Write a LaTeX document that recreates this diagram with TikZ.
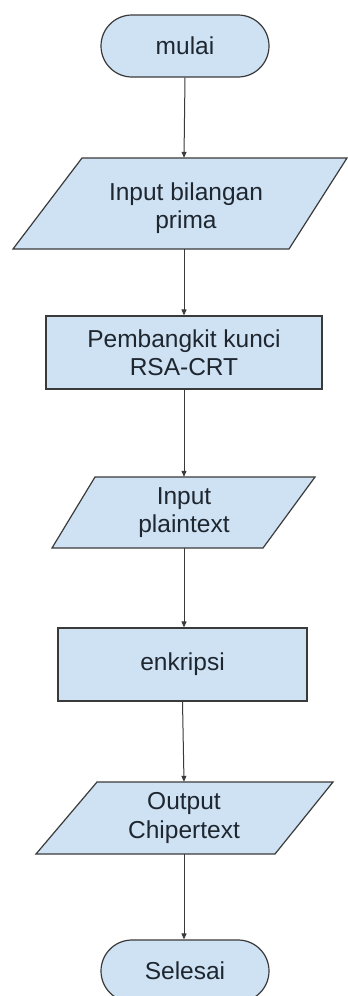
\documentclass[tikz,border=0pt]{standalone}
\usepackage{fontspec}
\setmainfont{Liberation Sans}
\usetikzlibrary{arrows.meta}
\definecolor{boxfill}{HTML}{CFE2F3}
\definecolor{boxline}{HTML}{3A3A3A}
\definecolor{txt}{HTML}{1E2630}
\tikzset{
  shapeline/.style={draw=boxline, line width=1.2pt, fill=boxfill},
  label/.style={text=txt, align=center, font=\fontsize{24.5}{28.5}\selectfont},
  terminal/.style={shapeline, label, rectangle, rounded corners=31pt,
    minimum width=168pt, minimum height=62pt, inner sep=0pt},
  process/.style={shapeline, label, rectangle, minimum height=73pt, inner sep=0pt},
  iotext/.style={label, draw=none, fill=none, inner sep=0pt},
  flow/.style={draw=boxline, line width=1pt, -{Triangle[length=6pt,width=5pt]}}
}
\begin{document}
\begin{tikzpicture}[x=1pt, y=-1pt]
  \useasboundingbox[fill=white] (0,0) rectangle (348,996);

  % terminals and processes
  \node[terminal] (start) at (185,46) {mulai};
  \node[process, minimum width=276pt] (keygen) at (184,352.5) {Pembangkit kunci\\RSA-CRT};
  \node[process, minimum width=249pt] (enc) at (182.5,664.5) {enkripsi};
  \node[terminal] (stop) at (185,971) {Selesai};

  % input/output parallelograms
  \path[shapeline] (82,158) -- (347,158) -- (289,249) -- (13,249) -- cycle;
  \path[shapeline] (95,477) -- (315,477) -- (263,548) -- (52,548) -- cycle;
  \path[shapeline] (97,782) -- (333,782) -- (275,854) -- (36,854) -- cycle;

  % anchors of the parallelograms carry the labels
  \node[iotext, minimum height=91pt] (prime) at (184,203.5) {};
  \node[label] at (186,208) {Input bilangan\\prima};
  \node[iotext, minimum height=71pt] (plain) at (184,512.5) {Input\\plaintext};
  \node[iotext, minimum height=72pt] (cipher) at (184,818) {Output\\Chipertext};

  % connectors
  \draw[flow] (start.south) -- (prime.north);
  \draw[flow] (prime.south) -- (keygen.north -| prime.south);
  \draw[flow] (keygen.south) -- (plain.north);
  \draw[flow] (plain.south) -- (enc.north -| plain.south);
  \draw[flow] (enc.south) -- (cipher.north);
  \draw[flow] (cipher.south) -- (stop.north -| cipher.south);
\end{tikzpicture}
\end{document}
